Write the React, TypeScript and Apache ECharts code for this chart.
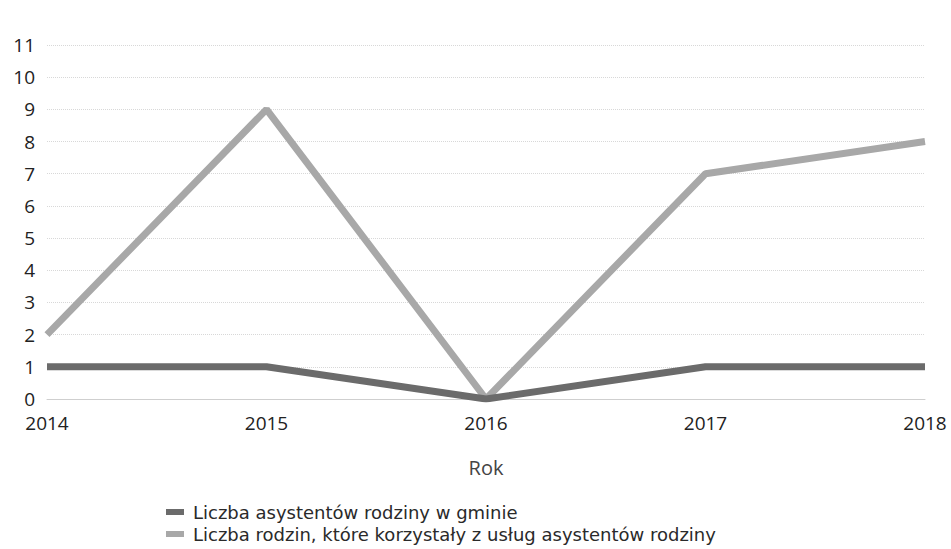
import React, { useEffect, useRef } from "react";
import * as echarts from "echarts";

const years = ["2014", "2015", "2016", "2017", "2018"];
const asystenci = [1, 1, 0, 1, 1];
const rodziny = [2, 9, 0, 7, 8];
const seriesNames = [
  "Liczba asystentów rodziny w gminie",
  "Liczba rodzin, które korzystały z usług asystentów rodziny",
];
const xAxisTitle = "Rok";
const colors = ["#6b6b6b", "#a8a8a8"];

export default function App() {
  const ref = useRef<HTMLDivElement>(null);
  useEffect(() => {
    if (!ref.current) return;
    const chart = echarts.init(ref.current, null, { renderer: "svg" });
    const legendBase = {
      orient: "vertical",
      padding: 0,
      itemWidth: 18,
      itemHeight: 6,
      icon: "rect",
      textStyle: {
        fontFamily: "DejaVu Sans",
        fontSize: 18,
        lineHeight: 18,
        color: "#2a2a2a",
        padding: [0, 0, 0, 4],
      },
    };
    chart.setOption({
      animation: false,
      backgroundColor: "#ffffff",
      grid: { left: 47, right: 26, top: 45, bottom: 150 },
      legend: [
        { ...legendBase, left: 166, top: 503, data: [seriesNames[0]] },
        { ...legendBase, left: 166, top: 525, data: [seriesNames[1]] },
      ],
      xAxis: {
        type: "category",
        data: years,
        boundaryGap: false,
        name: xAxisTitle,
        nameLocation: "middle",
        nameGap: 58,
        nameTextStyle: { fontFamily: "Open Sans", fontSize: 20, color: "#444" },
        axisLine: { lineStyle: { color: "#cfcfcf", width: 1 } },
        axisTick: { show: false },
        axisLabel: { fontFamily: "Open Sans", fontSize: 19, color: "#222", margin: 14 },
        splitLine: { show: false },
      },
      yAxis: {
        type: "value",
        min: 0,
        max: 11,
        interval: 1,
        axisLine: { show: false },
        axisTick: { show: false },
        axisLabel: { fontFamily: "Open Sans", fontSize: 19, color: "#222", margin: 12 },
        splitLine: { lineStyle: { color: "#d8d8d8", type: "dotted", width: 1 } },
      },
      series: [
        {
          name: seriesNames[0],
          type: "line",
          data: asystenci,
          symbol: "none",
          lineStyle: { color: colors[0], width: 7 },
          itemStyle: { color: colors[0] },
          z: 3,
        },
        {
          name: seriesNames[1],
          type: "line",
          data: rodziny,
          symbol: "none",
          lineStyle: { color: colors[1], width: 7 },
          itemStyle: { color: colors[1] },
          z: 2,
        },
      ],
    });
    return () => chart.dispose();
  }, []);
  return <div ref={ref} style={{ width: 951, height: 549, position: "absolute", left: 0, top: 0 }} />;
}
